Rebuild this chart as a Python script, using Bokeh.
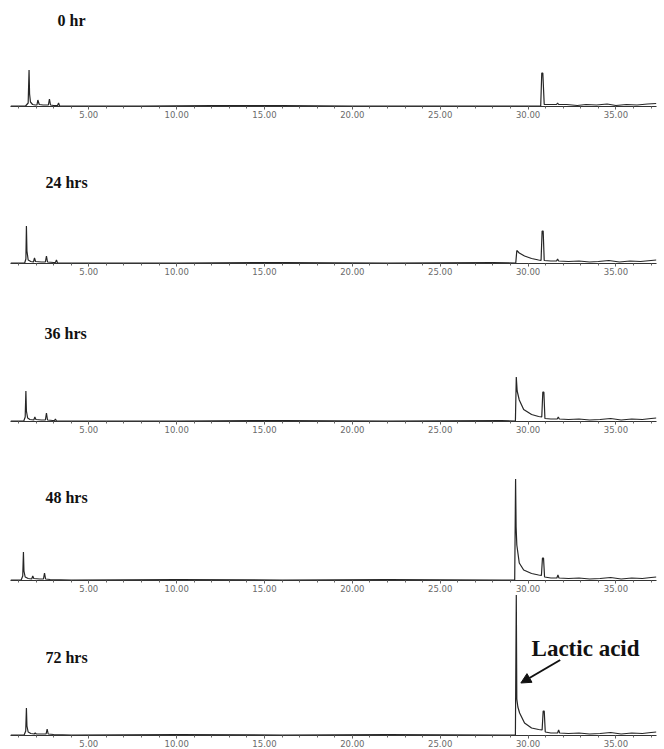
from bokeh.plotting import figure
from bokeh.layouts import column
from bokeh.models import (Range1d, FixedTicker, PrintfTickFormatter, Label,
                          Arrow, NormalHead, LinearAxis)
from bokeh.embed import file_html
from bokeh.resources import INLINE

# Retention time (min) and detector response for each fermentation time point
rt_0h = [0.55, 1.40, 1.55, 1.60, 1.63, 1.68, 1.80, 1.95, 2.05, 2.10, 2.18, 2.40, 2.70, 2.76, 2.82,
         3.00, 3.22, 3.28, 3.34, 4.0, 8.0, 12.0, 16.0, 20.0, 24.0, 28.0, 30.72, 30.78, 30.84, 30.92,
         31.20, 31.62, 31.68, 31.74, 32.20, 32.80, 33.30, 33.90, 34.50, 35.00, 35.60, 36.20, 36.80, 37.30]
ab_0h = [0, 0, 3, 36, 12, 4, 1.5, 1, 1, 6, 1.5, 1, 1, 7, 1,
         0.5, 0.5, 3, 0, 0, 0, 0.5, 0.5, 0, 0, 0, 0, 33, 33, 1.5,
         1.5, 1.5, 3, 1.5, 1.5, 0.5, 1.5, 1, 2, 0.5, 1.5, 1, 2, 2.5]

rt_24h = [0.55, 1.35, 1.42, 1.45, 1.48, 1.55, 1.70, 1.85, 1.91, 1.97, 2.30, 2.53, 2.59, 2.65, 3.00,
          3.10, 3.16, 3.22, 4.0, 10.0, 16.0, 22.0, 28.0, 29.30, 29.36, 29.50, 29.80, 30.20, 30.60, 30.74,
          30.80, 30.86, 30.92, 31.30, 31.62, 31.68, 31.74, 32.30, 32.90, 33.50, 34.00, 34.60, 35.20, 35.80,
          36.40, 37.00, 37.30]
ab_24h = [0, 0, 4, 37, 12, 3, 1.5, 1, 5, 1.5, 1, 1, 7, 1, 0.5,
          0.5, 3, 0, 0, 0, 0.5, 0, 0.5, 0, 12.5, 10, 7, 4.5, 3, 2.5,
          32, 32, 2.5, 2, 2, 4, 2, 1.5, 2, 1, 1.5, 2.5, 1, 2,
          1.5, 2.5, 3]

rt_36h = [0.55, 1.30, 1.38, 1.42, 1.45, 1.52, 1.65, 1.87, 1.93, 1.99, 2.30, 2.53, 2.59, 2.65, 2.95,
          3.05, 3.10, 3.16, 4.0, 10.0, 16.0, 22.0, 28.5, 29.28, 29.33, 29.38, 29.50, 29.75, 30.20, 30.60,
          30.78, 30.84, 30.90, 30.96, 31.30, 31.66, 31.72, 31.78, 32.30, 32.90, 33.50, 34.10, 34.70, 35.30,
          35.90, 36.50, 37.00, 37.30]
ab_36h = [0, 0, 4, 30, 10, 3, 1.5, 1, 4, 1.5, 1, 1, 8, 1, 0.5,
          0.5, 2, 0, 0, 0, 0.5, 0, 0.5, 0, 44, 30, 21, 11.5, 6.5, 4.5,
          4, 29, 29, 2.5, 2, 2, 4, 2, 1.5, 2, 1, 1.5, 2.5, 1,
          2, 1.5, 2.5, 3]

rt_48h = [0.55, 1.15, 1.24, 1.28, 1.31, 1.38, 1.55, 1.75, 1.81, 1.87, 2.20, 2.42, 2.48, 2.54, 2.80,
          4.0, 10.0, 16.0, 22.0, 28.5, 29.24, 29.29, 29.32, 29.36, 29.50, 29.75, 30.20, 30.60, 30.76, 30.82,
          30.88, 30.94, 31.30, 31.64, 31.70, 31.76, 32.30, 32.90, 33.50, 34.10, 34.70, 35.30, 35.90, 36.50,
          37.00, 37.30]
ab_48h = [0, 0, 4, 28, 9, 3, 1.5, 1, 4, 1.5, 1, 1, 7, 1, 0.5,
          0, 0.5, 0, 0.5, 0, 0, 101, 53, 35, 17, 10, 6.5, 5, 4.5, 22,
          22, 3, 2, 2, 5, 2, 1.5, 2, 1, 1.5, 2.5, 1, 2, 1.5,
          2.5, 3]

rt_72h = [0.55, 1.32, 1.41, 1.45, 1.48, 1.55, 1.70, 1.89, 1.95, 2.01, 2.30, 2.57, 2.63, 2.69, 3.00,
          4.0, 10.0, 16.0, 22.0, 28.5, 29.28, 29.33, 29.36, 29.42, 29.52, 29.80, 30.20, 30.60, 30.80, 30.86,
          30.92, 30.98, 31.30, 31.68, 31.74, 31.80, 32.30, 32.90, 33.50, 34.10, 34.70, 35.30, 35.90, 36.50,
          37.00, 37.30]
ab_72h = [0, 0, 4, 27, 9, 3, 1.5, 1, 2, 1, 1, 1, 6, 1, 0.5,
          0, 0.5, 0, 0.5, 0, 0, 140, 36, 28, 22, 12, 7, 5.5, 5, 24,
          24, 3, 2, 2, 5, 2, 1.5, 2, 1, 1.5, 2.5, 1, 2, 1.5,
          2.5, 3]

panel_titles = ["0 hr", "24 hrs", "36 hrs", "48 hrs", "72 hrs"]
major_ticks = [5, 10, 15, 20, 25, 30, 35]
minor_ticks = list(range(1, 38))

traces = [(rt_0h, ab_0h), (rt_24h, ab_24h), (rt_36h, ab_36h), (rt_48h, ab_48h), (rt_72h, ab_72h)]

X_START, X_END = 0.544, 37.31
FRAME_W = 646
frame_heights = [106, 143, 144, 145, 141]
title_pos = [(3.22, 86), (2.53, 80.5), (2.48, 88), (2.53, 83), (2.53, 78)]

panels = []
for i, ((rt, ab), title, fh, (tx, ty)) in enumerate(zip(traces, panel_titles, frame_heights, title_pos)):
    p = figure(frame_width=FRAME_W, frame_height=fh,
               x_range=Range1d(X_START, X_END), y_range=Range1d(-0.5, fh - 0.5),
               y_axis_location=None, output_backend="svg", toolbar_location=None,
               min_border_left=10, min_border_right=8, min_border_top=0, min_border_bottom=0,
               background_fill_color="white", border_fill_color="white")
    p.grid.visible = False
    p.outline_line_color = None

    ax = p.xaxis[0]
    ax.ticker = FixedTicker(ticks=major_ticks, minor_ticks=minor_ticks)
    ax.formatter = PrintfTickFormatter(format="%.2f")
    ax.axis_line_color = "#333333"
    ax.axis_line_width = 1
    ax.major_tick_out = 3
    ax.major_tick_in = 0
    ax.minor_tick_out = 2
    ax.minor_tick_in = 0
    ax.major_tick_line_color = "#555555"
    ax.minor_tick_line_color = "#666666"
    ax.major_label_text_font = "DejaVu Sans"
    ax.major_label_text_font_size = "8.5px"
    ax.major_label_text_color = "#6a6a6a"
    ax.major_label_standoff = 1

    if i == 0:
        rule = LinearAxis(ticker=FixedTicker(ticks=[]), axis_line_color="#c4c4c4",
                          major_tick_line_color=None, minor_tick_line_color=None,
                          major_label_text_font_size="0px", major_label_standoff=0)
        p.add_layout(rule, "below")

    p.line(rt, ab, line_color="#262626", line_width=1.2)

    p.add_layout(Label(x=tx, y=ty, text=title, text_font="Liberation Serif",
                       text_font_style="bold", text_font_size="16px",
                       text_color="#111111", text_baseline="middle", text_align="left"))

    if i == 4:
        p.add_layout(Label(x=30.2, y=87, text="Lactic acid", text_font="Liberation Serif",
                           text_font_style="bold", text_font_size="23px",
                           text_color="#111111", text_baseline="alphabetic", text_align="left"))
        p.add_layout(Arrow(end=NormalHead(size=10, fill_color="#111111", line_color="#111111"),
                           x_start=31.83, y_start=75, x_end=29.59, y_end=52,
                           line_width=2, line_color="#111111"))
    panels.append(p)

layout = column(*panels, spacing=0)
open("out.html", "w").write(file_html(layout, INLINE))
